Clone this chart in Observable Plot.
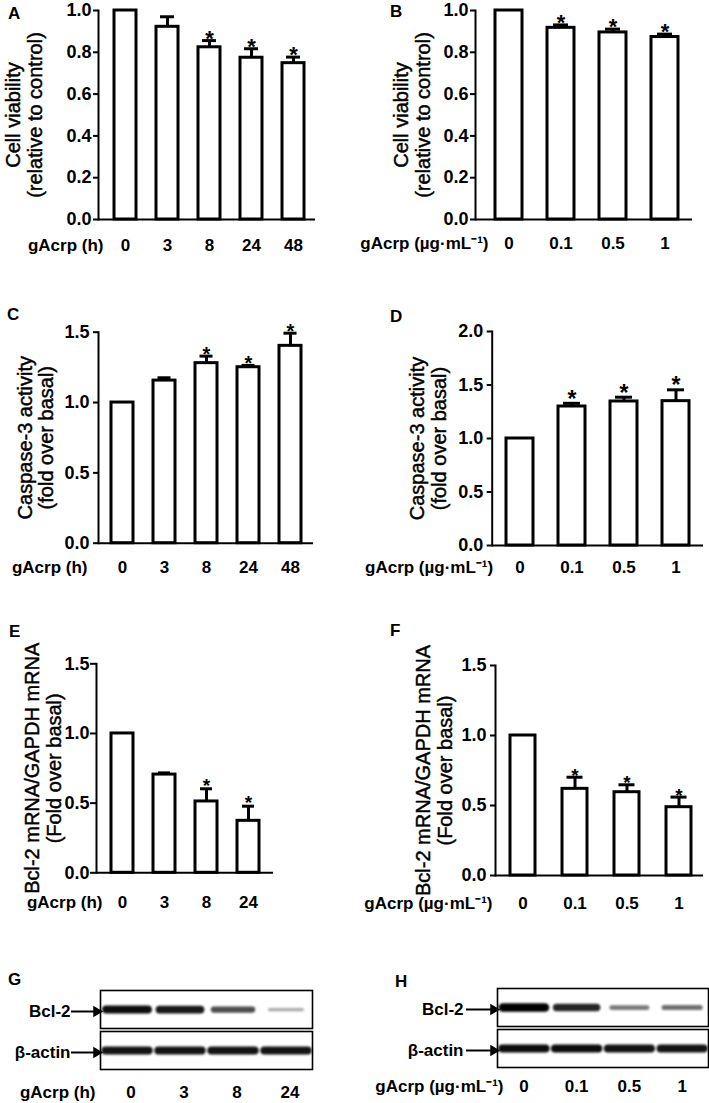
<!DOCTYPE html>
<html>
<head>
<meta charset="utf-8">
<script src="https://cdn.jsdelivr.net/npm/d3@7"></script>
<script src="https://cdn.jsdelivr.net/npm/@observablehq/plot@0.6"></script>
<style>
  body { margin: 0; background: #fff; }
  #fig { position: relative; width: 709px; height: 1103px; overflow: hidden; background: #fff; }
  .panel { position: absolute; }
  .panel svg { overflow: visible; }
  .letter { position: absolute; font: bold 17px "Liberation Sans", Arial, sans-serif; line-height: 17px; color: #000; }
</style>
</head>
<body>
<div id="fig"></div>
<script>
// ---------------- data ----------------
const timeCats = ["0", "3", "8", "24", "48"];
const timeCatsShort = ["0", "3", "8", "24"];
const doseCats = ["0", "0.1", "0.5", "1"];

const timeLabel = "gAcrp (h)";
const doseLabel = "gAcrp (µg·mL⁻¹)";

const viabTicks = [0, 0.2, 0.4, 0.6, 0.8, 1.0];
const casp15Ticks = [0, 0.5, 1.0, 1.5];
const casp20Ticks = [0, 0.5, 1.0, 1.5, 2.0];
const bclTicks = [0, 0.5, 1.0, 1.5];

// A: cell viability vs time
const viabTime = [1.0, 0.922, 0.824, 0.774, 0.748];
const viabTimeErr = [0, 0.048, 0.032, 0.043, 0.029];
const viabTimeSig = [false, false, true, true, true];
// B: cell viability vs dose
const viabDose = [1.0, 0.917, 0.895, 0.873];
const viabDoseErr = [0, 0.014, 0.016, 0.014];
const viabDoseSig = [false, true, true, true];
// C: caspase-3 vs time
const caspTime = [1.0, 1.156, 1.28, 1.251, 1.403];
const caspTimeErr = [0, 0.02, 0.05, 0.013, 0.09];
const caspTimeSig = [false, false, true, true, true];
// D: caspase-3 vs dose
const caspDose = [1.0, 1.299, 1.346, 1.349];
const caspDoseErr = [0, 0.03, 0.04, 0.106];
const caspDoseSig = [false, true, true, true];
// E: Bcl-2 mRNA vs time
const bclTime = [1.0, 0.705, 0.512, 0.373];
const bclTimeErr = [0, 0.012, 0.091, 0.105];
const bclTimeSig = [false, false, true, true];
// F: Bcl-2 mRNA vs dose
const bclDose = [1.0, 0.619, 0.595, 0.488];
const bclDoseErr = [0, 0.083, 0.053, 0.072];
const bclDoseSig = [false, true, true, true];

// G/H: western blot band intensities (relative)
const blotRows = ["Bcl-2", "β-actin"];
const blotTimeBcl2 = [0.95, 0.9, 0.7, 0.3];
const blotTimeActin = [0.92, 0.92, 0.92, 0.92];
const blotDoseBcl2 = [1.0, 0.85, 0.5, 0.55];
const blotDoseActin = [0.95, 0.95, 0.92, 0.92];

const viabTitle = "Cell viability\n(relative to control)";
const caspTitle = "Caspase-3 activity\n(fold over basal)";
const bclTitle = "Bcl-2 mRNA/GAPDH mRNA\n(Fold over basal)";

// ---------------- drawing ----------------
const FONT = '"Liberation Sans", Arial, Helvetica, sans-serif';
const fig = document.getElementById("fig");

function place(node, left, top) {
  const div = document.createElement("div");
  div.className = "panel";
  div.style.left = left + "px";
  div.style.top = top + "px";
  div.appendChild(node);
  fig.appendChild(div);
}

function letter(ch, left, top) {
  const s = document.createElement("div");
  s.className = "letter";
  s.textContent = ch;
  s.style.left = left + "px";
  s.style.top = top + "px";
  fig.appendChild(s);
}

function barPanel(c) {
  const data = c.cats.map((cat, i) => ({cat, v: c.values[i], e: c.errs[i], s: c.sig[i]}));
  const withErr = data.filter(d => d.e > 0);
  const plot = Plot.plot({
    width: c.width, height: c.height,
    marginLeft: c.ml, marginRight: c.mr, marginTop: c.mt, marginBottom: c.mb,
    style: {fontFamily: FONT, fontSize: "17px", fontWeight: "bold", background: "transparent", color: "black"},
    x: {domain: c.cats, paddingInner: c.pi, paddingOuter: c.po, align: c.align, axis: null},
    y: {domain: [0, c.ymax], axis: null},
    marks: [
      Plot.ruleX(withErr, {x: "cat", y1: "v", y2: d => d.v + d.e, stroke: "black", strokeWidth: 3}),
      Plot.tickY(withErr, {x: "cat", y: d => d.v + d.e, stroke: "black", strokeWidth: 3, inset: c.capInset}),
      Plot.barY(data, {x: "cat", y: "v", fill: "white", stroke: "black", strokeWidth: 3}),
      Plot.text(data.filter(d => d.s), {x: "cat", y: d => d.v + d.e, text: () => "*", fontSize: c.starSize, fontWeight: "bold", lineAnchor: "middle", dy: c.starDy}),
      Plot.frame({anchor: "left", stroke: "black", strokeWidth: 2}),
      Plot.ruleY([0], {stroke: "black", strokeWidth: 2}),
      Plot.axisY({ticks: c.ticks, tickFormat: d3.format(".1f"), tickSize: c.tickSize, tickPadding: c.tp, strokeWidth: 2, label: null, fontSize: 18, fontWeight: "bold"}),
      Plot.text(c.cats, {x: d => d, text: d => d, frameAnchor: "bottom", dy: c.xdy, lineAnchor: "middle", fontSize: 17, fontWeight: "bold"}),
      Plot.text([c.xtitle], {text: d => d, frameAnchor: "bottom-left", textAnchor: "end", dx: c.xtdx, dy: c.xdy, lineAnchor: "middle", fontSize: 17, fontWeight: "bold"}),
      Plot.text([c.ytitle], {text: d => d, frameAnchor: "left", rotate: -90, dx: c.tdx, textAnchor: "middle", lineAnchor: "middle", lineHeight: 1.08, fontSize: 20, fontWeight: "normal", stroke: "black", strokeWidth: 0.45, fill: "black"})
    ]
  });
  place(plot, c.left, c.top);
}

function blotPanel(c) {
  const bands = [];
  c.lanes.forEach((lane, i) => {
    bands.push({row: "Bcl-2", i, v: c.bcl2[i], w: 0.27 + 0.13 * c.bcl2[i]});
    bands.push({row: "β-actin", i, v: c.actin[i], w: 0.41});
  });
  const plot = Plot.plot({
    width: c.width, height: c.height,
    marginLeft: c.ml, marginRight: c.mr, marginTop: c.mt, marginBottom: c.mb,
    style: {fontFamily: FONT, fontSize: "17px", fontWeight: "bold", background: "transparent", color: "black"},
    x: {domain: [-0.5, c.lanes.length - 0.5], axis: null},
    y: {domain: [-1, 1], axis: null},
    color: {type: "identity"},
    fy: {domain: blotRows, paddingInner: 0.07, paddingOuter: 0, axis: null},
    marks: [
      Plot.link(bands, {fy: "row", x1: d => d.i - d.w, x2: d => d.i + d.w, y1: 0, y2: 0,
        stroke: d => d3.interpolateGreys(0.2 + 0.8 * d.v), strokeWidth: d => 1 + 7.5 * d.v,
        strokeLinecap: "round", imageFilter: "blur(1px)"}),
      Plot.frame({stroke: "black", strokeWidth: 1.6}),
      Plot.axisFy({anchor: "left", tickSize: c.arrowLen, tickPadding: c.arrowPad, strokeWidth: 2, label: null, fontSize: 17, fontWeight: "bold", dy: 2}),
      Plot.dot(blotRows, {fy: d => d, frameAnchor: "left", symbol: "triangle", rotate: 90, r: 4.2, fill: "black", stroke: null, dx: -4, dy: 2}),
      Plot.text(c.lanes, {fy: () => "β-actin", x: (d, i) => i, text: d => d, frameAnchor: "bottom", dx: c.laneDx, dy: c.xdy, lineAnchor: "middle", fontSize: 17, fontWeight: "bold"}),
      Plot.text([c.xtitle], {fy: () => "β-actin", text: d => d, frameAnchor: "bottom-left", textAnchor: "end", dx: c.xtdx, dy: c.xdy, lineAnchor: "middle", fontSize: 17, fontWeight: "bold"})
    ]
  });
  place(plot, c.left, c.top);
}

// A
barPanel({left: 0, top: 0, width: 350, height: 270, ml: 98, mr: 35, mt: 10, mb: 51,
  cats: timeCats, values: viabTime, errs: viabTimeErr, sig: viabTimeSig,
  ymax: 1.0, ticks: viabTicks, pi: 0.48, po: 0.3, align: 0.58, capInset: 4,
  starSize: 22, starDy: -2, tickSize: 5, tp: 2, xdy: 26, xtdx: 5, xtitle: timeLabel,
  ytitle: viabTitle, tdx: -74.5});
// B
barPanel({left: 350, top: 0, width: 359, height: 270, ml: 125, mr: 17, mt: 10, mb: 51,
  cats: doseCats, values: viabDose, errs: viabDoseErr, sig: viabDoseSig,
  ymax: 1.0, ticks: viabTicks, pi: 0.48, po: 0.32, align: 0.6, capInset: 6,
  starSize: 22, starDy: -2, tickSize: 5, tp: 2, xdy: 24, xtdx: 13, xtitle: doseLabel,
  ytitle: viabTitle, tdx: -63.5});
// C
barPanel({left: 0, top: 270, width: 350, height: 310, ml: 98, mr: 37, mt: 61.7, mb: 37.3,
  cats: timeCats, values: caspTime, errs: caspTimeErr, sig: caspTimeSig,
  ymax: 1.5, ticks: casp15Ticks, pi: 0.48, po: 0.28, align: 0.53, capInset: 4.5,
  starSize: 20, starDy: -1.5, tickSize: 5, tp: 4, xdy: 24, xtdx: -11, xtitle: timeLabel,
  ytitle: caspTitle, tdx: -63});
// D
barPanel({left: 350, top: 270, width: 359, height: 310, ml: 141.7, mr: 6, mt: 61, mb: 35,
  cats: doseCats, values: caspDose, errs: caspDoseErr, sig: caspDoseSig,
  ymax: 2.0, ticks: casp20Ticks, pi: 0.49, po: 0.25, align: 0.5, capInset: 5,
  starSize: 23, starDy: -4, tickSize: 5, tp: 4, xdy: 22, xtdx: 1, xtitle: doseLabel,
  ytitle: caspTitle, tdx: -64});
// E
barPanel({left: 0, top: 580, width: 350, height: 330, ml: 96, mr: 77, mt: 83.3, mb: 37.7,
  cats: timeCatsShort, values: bclTime, errs: bclTimeErr, sig: bclTimeSig,
  ymax: 1.5, ticks: bclTicks, pi: 0.48, po: 0.32, align: 0.5, capInset: 5,
  starSize: 19, starDy: -3, tickSize: 6, tp: 1, xdy: 29.4, xtdx: 6, xtitle: timeLabel,
  ytitle: bclTitle, tdx: -53.5});
// F
barPanel({left: 350, top: 580, width: 359, height: 330, ml: 145, mr: 6, mt: 85, mb: 35,
  cats: doseCats, values: bclDose, errs: bclDoseErr, sig: bclDoseSig,
  ymax: 1.5, ticks: bclTicks, pi: 0.51, po: 0.23, align: 0.58, capInset: 4.5,
  starSize: 19, starDy: -1.5, tickSize: 5, tp: 4, xdy: 28, xtdx: -3, xtitle: doseLabel,
  ytitle: bclTitle, tdx: -61.5});
// G
blotPanel({left: 0, top: 910, width: 350, height: 193, ml: 100, mr: 38, mt: 79, mb: 33,
  lanes: timeCatsShort, bcl2: blotTimeBcl2, actin: blotTimeActin,
  arrowLen: 29, arrowPad: 1, xdy: 23, laneDx: 4, xtdx: -5, xtitle: timeLabel});
// H
blotPanel({left: 350, top: 910, width: 359, height: 193, ml: 147, mr: 1, mt: 78, mb: 35,
  lanes: doseCats, bcl2: blotDoseBcl2, actin: blotDoseActin,
  arrowLen: 31, arrowPad: 3, xdy: 19, laneDx: 0, xtdx: 6, xtitle: doseLabel});

// panel letters
letter("A", 8, 5);
letter("B", 390, 3);
letter("C", 7, 306);
letter("D", 390, 308);
letter("E", 9, 623);
letter("F", 390, 622);
letter("G", 8, 971);
letter("H", 395, 973);
</script>
</body>
</html>
